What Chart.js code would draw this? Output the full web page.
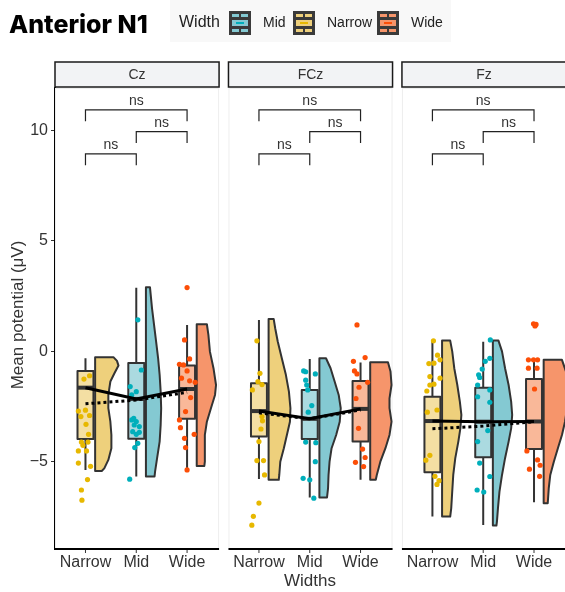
<!DOCTYPE html>
<html lang="en">
<head>
<meta charset="UTF-8">
<title>Anterior N1</title>
<script src="https://cdn.jsdelivr.net/npm/chart.js"></script>
<style>
  body { margin: 0; background: #fff; }
  #wrap { position: relative; width: 565px; height: 592px; }
</style>
</head>
<body>
<div id="wrap"><canvas id="chart"></canvas></div>
<script>
// facets and groups
const panels = ['Cz', 'FCz', 'Fz'];
const widths = ['Narrow', 'Mid', 'Wide'];
const legendOrder = ['Mid', 'Narrow', 'Wide'];
const yTicks = [-5, 0, 5, 10];

// box stats per panel: [Narrow, Mid, Wide]
const whiskerLow  = [[-5.36, -5.66, -5.36], [-5.77, -6.61, -5.81], [-7.47, -7.85, -6.83]];
const q1          = [[-3.96, -3.95, -3.05], [-3.85, -3.96, -4.08], [-5.47, -4.79, -4.41]];
const medians     = [[-1.64, -2.15, -1.70], [-2.70, -3.05, -2.60], [-3.15, -3.18, -3.17]];
const q3          = [[-0.88, -0.52, -0.64], [-1.44, -1.74, -1.34], [-2.05, -1.64, -1.25]];
const whiskerHigh = [[-0.31, 2.88, 1.20], [1.42, -0.34, -0.50], [0.44, 0.44, -0.43]];
const means       = [[-2.37, -2.20, -1.85], [-2.78, -3.05, -2.65], [-3.50, -3.38, -3.18]];

// jittered points: [x offset, value]
const ptsCz = [
  [[0.08,-1.1],[-0.03,-1.25],[-0.14,-2.7],[-0.09,-2.95],[0.0,-2.66],[0.08,-2.9],[0.01,-3.3],[0.06,-3.75],[-0.08,-4.1],[0.05,-4.1],[-0.05,-4.25],[-0.14,-4.5],[0.02,-4.5],[-0.14,-5.05],[0.1,-5.2],[0.04,-5.8],[-0.08,-6.27],[-0.07,-6.73]],
  [[0.03,1.43],[0.1,-0.84],[-0.12,-1.59],[0,-1.82],[-0.09,-1.97],[-0.05,-3.03],[-0.09,-3.1],[0,-3.17],[-0.04,-3.33],[0.06,-3.4],[-0.07,-3.63],[0,-3.75],[0.06,-3.66],[0.03,-4.16],[-0.03,-4.35],[-0.13,-5.78]],
  [[0,2.89],[-0.05,0.52],[0.05,-0.34],[-0.15,-0.58],[-0.07,-0.61],[0,-0.88],[-0.11,-1.21],[0.05,-1.33],[0.16,-1.4],[0.07,-2.09],[-0.03,-2.72],[-0.15,-3.1],[-0.13,-3.45],[0.14,-3.75],[-0.05,-3.93],[-0.03,-4.35],[0,-5.36]]
];
const ptsFCz = [
  [[-0.04,0.48],[0.02,-0.99],[-0.02,-1.37],[0.06,-1.5],[-0.13,-1.74],[0.06,-2.95],[0.07,-3.14],[0.04,-3.51],[0,-4.08],[-0.04,-4.94],[0.09,-4.94],[0.11,-5.59],[0,-6.86],[-0.11,-7.46],[-0.14,-7.86]],
  [[-0.12,-0.88],[-0.08,-0.92],[0.11,-1.02],[-0.08,-1.3],[-0.06,-1.52],[-0.04,-1.74],[0.04,-2.45],[-0.03,-2.75],[-0.08,-4.1],[0.12,-4.13],[0.11,-4.99],[-0.13,-5.74],[0,-5.81],[0.08,-6.64]],
  [[-0.07,1.2],[0.09,-0.28],[-0.14,-0.45],[-0.12,-0.88],[-0.07,-1.02],[0.14,-1.4],[-0.03,-1.62],[-0.09,-2.13],[-0.04,-3.48],[0.04,-4.42],[0.09,-4.8],[-0.1,-5.02],[0.06,-5.21]]
];
const ptsFz = [
  [[0.02,0.48],[0.1,-0.17],[0.15,-0.38],[-0.07,-0.55],[0.03,-0.53],[-0.05,-1.14],[0.15,-1.21],[0.03,-1.48],[-0.05,-1.52],[-0.11,-1.79],[-0.1,-2.75],[0.09,-2.65],[-0.05,-4.7],[-0.13,-4.92],[0.05,-5.65],[0.13,-5.85],[0.09,-6.02]],
  [[0.14,0.52],[0.13,-0.31],[0.04,-0.45],[-0.02,-0.8],[-0.09,-1.06],[-0.07,-1.18],[-0.11,-1.52],[0.13,-1.74],[-0.11,-2.05],[0.13,-2.3],[0.09,-3.58],[-0.11,-4.08],[-0.07,-5.05],[0.13,-5.66],[-0.12,-6.27],[0.01,-6.36]],
  [[-0.01,1.25],[0.02,1.15],[0.04,1.22],[-0.11,-0.38],[-0.01,-0.38],[0.07,-0.38],[-0.11,-0.76],[0.06,-0.76],[0.01,-1.7],[-0.14,-4.5],[0.07,-4.91],[0.12,-5.15],[-0.09,-5.33],[0.11,-5.65]]
];
const points = [ptsCz, ptsFCz, ptsFz];

// half violins: [value, width in x units]
const violinCz = [
  [[-0.26,0.36],[-0.43,0.43],[-0.64,0.46],[-0.99,0.38],[-1.36,0.30],[-1.97,0.26],[-2.57,0.26],[-3.18,0.30],[-3.78,0.32],[-4.38,0.32],[-4.91,0.26],[-5.29,0.18],[-5.41,0.13]],
  [[2.9,0.08],[1.95,0.12],[1.2,0.16],[0.45,0.2],[-0.31,0.24],[-1.06,0.27],[-1.82,0.29],[-2.57,0.3],[-3.33,0.29],[-4.08,0.27],[-4.83,0.22],[-5.44,0.18],[-5.66,0.17]],
  [[1.23,0.2],[0.75,0.23],[-0.01,0.26],[-0.76,0.33],[-1.52,0.38],[-1.97,0.36],[-2.57,0.28],[-3.18,0.2],[-3.78,0.16],[-4.38,0.16],[-4.99,0.16],[-5.18,0.15]]
];
const violinFCz = [
  [[1.47,0.1],[1.05,0.13],[0.45,0.18],[-0.31,0.26],[-1.06,0.34],[-1.82,0.4],[-2.57,0.43],[-3.18,0.42],[-3.78,0.36],[-4.38,0.3],[-4.99,0.23],[-5.59,0.21],[-5.81,0.2]],
  [[-0.31,0.13],[-0.76,0.22],[-1.36,0.3],[-1.97,0.38],[-2.57,0.42],[-3.18,0.4],[-3.78,0.33],[-4.38,0.24],[-4.99,0.2],[-5.59,0.18],[-6.2,0.17],[-6.61,0.15]],
  [[-0.49,0.35],[-0.91,0.4],[-1.52,0.42],[-2.12,0.38],[-2.57,0.38],[-3.18,0.42],[-3.78,0.38],[-4.38,0.3],[-4.99,0.2],[-5.59,0.13],[-5.81,0.11]]
];
const violinFz = [
  [[0.49,0.16],[0,0.2],[-0.76,0.24],[-1.52,0.3],[-2.27,0.35],[-2.87,0.38],[-3.48,0.36],[-4.08,0.32],[-4.83,0.26],[-5.59,0.22],[-6.34,0.2],[-7.1,0.18],[-7.47,0.16]],
  [[0.49,0.11],[0,0.18],[-0.76,0.24],[-1.52,0.31],[-2.27,0.36],[-2.87,0.38],[-3.48,0.36],[-4.08,0.31],[-4.83,0.24],[-5.59,0.18],[-6.34,0.13],[-7.1,0.1],[-7.7,0.08],[-7.88,0.07]],
  [[-0.38,0.36],[-0.91,0.44],[-1.67,0.46],[-2.27,0.44],[-2.87,0.44],[-3.18,0.42],[-3.78,0.36],[-4.38,0.28],[-4.99,0.2],[-5.59,0.13],[-6.2,0.1],[-6.87,0.08]]
];
const violins = [violinCz, violinFCz, violinFz];

// pairwise comparisons (group index pairs), bracket heights and labels
const comparisons = [[0, 2], [1, 2], [0, 1]];
const bracketY = [10.93, 9.95, 8.94];
const bracketLabels = ['ns', 'ns', 'ns'];

// colours, indexed like widths
const pointColor = ['#E7B800', '#00AFBB', '#FC4E07'];
const boxFill = ['#F4DFA3', '#ABDAE0', '#F9B899'];
const violinFill = ['#EED07C', '#84C9D2', '#F6956B'];
const ink = '#333333';
const FONT = "'Liberation Sans', Arial, sans-serif";

// layout of the facets on one linear x scale
const pitch = 3.415;   // distance between facets
const span = 3.23;     // facet width
const boxHalf = 0.157;
const violinGap = 0.19;
function catX(p, g) { return g + 1 + p * pitch; }
function panelLeft(p) { return 0.4 + p * pitch; }

const datasets = [];
panels.forEach((name, p) => {
  datasets.push({
    type: 'line', order: 0,
    data: medians[p].map((v, g) => ({x: catX(p, g), y: v})),
    borderColor: '#000', borderWidth: 3, pointRadius: 0, tension: 0
  });
  datasets.push({
    type: 'line', order: 0,
    data: means[p].map((v, g) => ({x: catX(p, g), y: v})),
    borderColor: '#000', borderWidth: 3, borderDash: [3, 3], pointRadius: 0, tension: 0
  });
  widths.forEach((w, g) => {
    datasets.push({
      type: 'scatter', order: 1,
      data: points[p][g].map(([dx, v]) => ({x: catX(p, g) + dx, y: v})),
      backgroundColor: pointColor[g], borderWidth: 0, pointRadius: 2.6
    });
  });
});

function drawKey(ctx, x0, y0, g) {
  ctx.fillStyle = '#3a3a3a';
  ctx.fillRect(x0, y0, 22, 24);
  ctx.fillStyle = violinFill[g];
  ctx.fillRect(x0 + 3, y0 + 3, 7, 3);
  ctx.fillRect(x0 + 12, y0 + 3, 7, 3);
  ctx.fillRect(x0 + 3, y0 + 9, 16, 6);
  ctx.fillRect(x0 + 3, y0 + 18, 7, 3);
  ctx.fillRect(x0 + 12, y0 + 18, 7, 3);
  ctx.fillStyle = pointColor[g];
  ctx.fillRect(x0 + 7, y0 + 11, 8, 2);
}

const rainclouds = {
  id: 'rainclouds',
  beforeDatasetsDraw(chart) {
    const {ctx, chartArea: a, scales: {x, y}} = chart;
    ctx.save();
    // faint facet frames
    panels.forEach((n, p) => {
      const l = x.getPixelForValue(panelLeft(p));
      const r = x.getPixelForValue(panelLeft(p) + span);
      ctx.strokeStyle = '#EEEEEE';
      ctx.lineWidth = 1;
      ctx.strokeRect(l + 0.5, a.top + 0.5, r - l - 1, a.bottom - a.top);
    });
    ctx.beginPath();
    ctx.rect(a.left, a.top, a.right - a.left, a.bottom - a.top);
    ctx.clip();
    ctx.lineJoin = 'round';
    panels.forEach((n, p) => widths.forEach((w, g) => {
      const cx = catX(p, g);
      // half violin
      const shape = violins[p][g];
      const x0 = cx + violinGap;
      ctx.beginPath();
      ctx.moveTo(x.getPixelForValue(x0), y.getPixelForValue(shape[0][0]));
      shape.forEach(([v, wd]) => ctx.lineTo(x.getPixelForValue(x0 + wd), y.getPixelForValue(v)));
      ctx.lineTo(x.getPixelForValue(x0), y.getPixelForValue(shape[shape.length - 1][0]));
      ctx.closePath();
      ctx.fillStyle = violinFill[g];
      ctx.fill();
      ctx.strokeStyle = ink;
      ctx.lineWidth = 2;
      ctx.stroke();
      // whiskers
      const px = x.getPixelForValue(cx);
      ctx.beginPath();
      ctx.moveTo(px, y.getPixelForValue(whiskerHigh[p][g]));
      ctx.lineTo(px, y.getPixelForValue(q3[p][g]));
      ctx.moveTo(px, y.getPixelForValue(q1[p][g]));
      ctx.lineTo(px, y.getPixelForValue(whiskerLow[p][g]));
      ctx.stroke();
      // box
      const bl = x.getPixelForValue(cx - boxHalf), br = x.getPixelForValue(cx + boxHalf);
      const bt = y.getPixelForValue(q3[p][g]), bb = y.getPixelForValue(q1[p][g]);
      ctx.fillStyle = boxFill[g];
      ctx.fillRect(bl, bt, br - bl, bb - bt);
      ctx.strokeRect(bl, bt, br - bl, bb - bt);
      const my = y.getPixelForValue(medians[p][g]);
      ctx.lineWidth = 4;
      ctx.beginPath();
      ctx.moveTo(bl, my);
      ctx.lineTo(br, my);
      ctx.stroke();
    }));
    ctx.restore();
  },
  afterDatasetsDraw(chart) {
    const {ctx, chartArea: a, scales: {x, y}} = chart;
    ctx.save();
    panels.forEach((name, p) => {
      const l = x.getPixelForValue(panelLeft(p));
      const r = x.getPixelForValue(panelLeft(p) + span);

      // significance brackets
      ctx.strokeStyle = '#222';
      ctx.lineWidth = 1.2;
      ctx.fillStyle = ink;
      ctx.font = '14px ' + FONT;
      ctx.textAlign = 'center';
      ctx.textBaseline = 'alphabetic';
      comparisons.forEach(([g1, g2], i) => {
        const x1 = x.getPixelForValue(catX(p, g1)), x2 = x.getPixelForValue(catX(p, g2));
        const yt = y.getPixelForValue(bracketY[i]), yb = y.getPixelForValue(bracketY[i] - 0.52);
        ctx.beginPath();
        ctx.moveTo(x1, yb); ctx.lineTo(x1, yt); ctx.lineTo(x2, yt); ctx.lineTo(x2, yb);
        ctx.stroke();
        ctx.fillText(bracketLabels[i], (x1 + x2) / 2, yt - 5);
      });

      // x axis of the facet
      ctx.strokeStyle = '#000';
      ctx.lineWidth = 2;
      ctx.beginPath();
      ctx.moveTo(l - (p === 0 ? 1 : 0), a.bottom);
      ctx.lineTo(r, a.bottom);
      ctx.stroke();
      ctx.strokeStyle = ink;
      ctx.lineWidth = 1;
      ctx.font = '16px ' + FONT;
      ctx.textBaseline = 'top';
      widths.forEach((w, g) => {
        const px = x.getPixelForValue(catX(p, g));
        ctx.beginPath();
        ctx.moveTo(px, a.bottom + 1);
        ctx.lineTo(px, a.bottom + 4);
        ctx.stroke();
        ctx.fillText(w, px, a.bottom + 6);
      });

      // strip
      ctx.fillStyle = '#F2F3F5';
      ctx.fillRect(l, 62, r - l, 25);
      ctx.strokeStyle = '#1a1a1a';
      ctx.lineWidth = 1.5;
      ctx.strokeRect(l, 62, r - l, 25);
      ctx.fillStyle = ink;
      ctx.font = '14px ' + FONT;
      ctx.textBaseline = 'middle';
      ctx.fillText(name, (l + r) / 2, 75);
    });

    // axis titles
    ctx.fillStyle = ink;
    ctx.font = '17px ' + FONT;
    ctx.textAlign = 'center';
    ctx.textBaseline = 'middle';
    ctx.fillText('Widths', (a.left + a.right) / 2, 581);
    ctx.save();
    ctx.translate(18, 315);
    ctx.rotate(-Math.PI / 2);
    ctx.fillText('Mean potential (\u03BCV)', 0, 0);
    ctx.restore();

    // title
    ctx.textAlign = 'left';
    ctx.textBaseline = 'alphabetic';
    ctx.fillStyle = '#000';
    ctx.font = "800 26px Inter, 'Liberation Sans', sans-serif";
    const tw = ctx.measureText('Anterior N1').width;
    ctx.font = "800 " + (26 * 139 / tw).toFixed(1) + "px Inter, 'Liberation Sans', sans-serif";
    ctx.fillText('Anterior N1', 9, 33);

    // legend
    ctx.fillStyle = '#F8F8F8';
    ctx.fillRect(170, 0, 281, 42);
    ctx.fillStyle = '#222';
    ctx.font = '16px ' + FONT;
    ctx.textBaseline = 'middle';
    ctx.fillText('Width', 179, 23);
    ctx.font = '14px ' + FONT;
    const keyX = [229, 293, 377];
    legendOrder.forEach((w, i) => {
      const g = widths.indexOf(w);
      drawKey(ctx, keyX[i], 11, g);
      ctx.fillStyle = '#222';
      ctx.fillText(w, keyX[i] + 34, 23);
    });
    ctx.restore();
  }
};

new Chart(document.getElementById('chart'), {
  type: 'scatter',
  data: { datasets },
  options: {
    responsive: true,
    maintainAspectRatio: false,
    animation: false,
    layout: { autoPadding: false, padding: { top: 88, bottom: 43, left: 0, right: 0 } },
    plugins: { legend: { display: false }, tooltip: { enabled: false } },
    scales: {
      x: { type: 'linear', display: false, min: 0.4, max: 10.44 },
      y: {
        type: 'linear', min: -8.94, max: 11.92,
        afterFit(s) { s.width = 55; },
        afterBuildTicks(s) { s.ticks = yTicks.map(v => ({ value: v })); },
        grid: { display: true, drawOnChartArea: false, drawTicks: true, tickLength: 4, color: ink, lineWidth: 1 },
        border: { display: true, color: '#000', width: 2 },
        ticks: {
          color: ink, padding: 3,
          font: { family: FONT, size: 16 },
          callback: v => v < 0 ? '\u2212' + Math.abs(v) : String(v)
        }
      }
    }
  },
  plugins: [rainclouds]
});
</script>
</body>
</html>
